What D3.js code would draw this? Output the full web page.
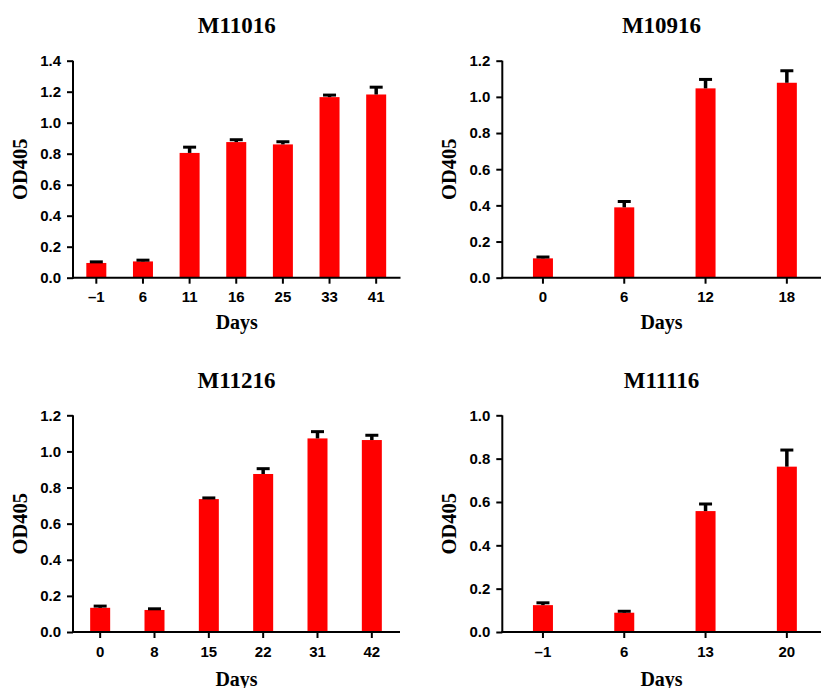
<!DOCTYPE html>
<html>
<head>
<meta charset="utf-8">
<script src="https://cdn.jsdelivr.net/npm/d3@7"></script>
<style>
  html, body { margin: 0; padding: 0; background: #fff; }
  svg { display: block; }
</style>
</head>
<body>
<svg id="chart" width="821" height="688"></svg>
<script>
// ---- data ----
const titles = ["M11016", "M10916", "M11216", "M11116"];

const days1 = ["\u20131", "6", "11", "16", "25", "33", "41"];
const mean1 = [0.095, 0.105, 0.805, 0.875, 0.86, 1.165, 1.182];
const err1  = [0.002, 0.003, 0.032, 0.010, 0.012, 0.008, 0.042];

const days2 = ["0", "6", "12", "18"];
const mean2 = [0.107, 0.389, 1.047, 1.078];
const err2  = [0.003, 0.028, 0.045, 0.062];

const days3 = ["0", "8", "15", "22", "31", "42"];
const mean3 = [0.134, 0.122, 0.736, 0.875, 1.072, 1.063];
const err3  = [0.005, 0.002, 0.002, 0.025, 0.033, 0.022];

const days4 = ["\u20131", "6", "13", "20"];
const mean4 = [0.124, 0.089, 0.558, 0.763];
const err4  = [0.007, 0.003, 0.029, 0.073];

const yMax = [1.4, 1.2, 1.2, 1.0];
const xLabel = "Days";
const yLabel = "OD405";

// ---- layout ----
const panels = [
  { title: titles[0], days: days1, mean: mean1, err: err1, ymax: yMax[0], x0: 73,    x1: 399.5, y0: 277.7, y1: 60.7,  titleY: 33,  xlabY: 329 },
  { title: titles[1], days: days2, mean: mean2, err: err2, ymax: yMax[1], x0: 502.3, x1: 827.5, y0: 277.7, y1: 60.7,  titleY: 33,  xlabY: 329, axisEnd: 821 },
  { title: titles[2], days: days3, mean: mean3, err: err3, ymax: yMax[2], x0: 73,    x1: 399,   y0: 632,   y1: 415.3, titleY: 388, xlabY: 686 },
  { title: titles[3], days: days4, mean: mean4, err: err4, ymax: yMax[3], x0: 502.3, x1: 827.5, y0: 632,   y1: 415.3, titleY: 388, xlabY: 686, axisEnd: 821 }
];

const svg = d3.select("#chart");
const serif = "'Liberation Serif', 'Times New Roman', Times, serif";
const sans = "'Liberation Sans', Arial, Helvetica, sans-serif";
const barW = 20;

panels.forEach(p => {
  const g = svg.append("g");
  const x = d3.scaleBand().domain(p.days).range([p.x0, p.x1]).padding(0);
  const y = d3.scaleLinear().domain([0, p.ymax]).range([p.y0, p.y1]);
  const data = p.days.map((d, i) => ({ day: d, v: p.mean[i], e: p.err[i] }));

  // bars
  g.selectAll("rect.bar").data(data).enter().append("rect")
    .attr("class", "bar")
    .attr("x", d => x(d.day) + x.bandwidth() / 2 - barW / 2)
    .attr("width", barW)
    .attr("y", d => y(d.v))
    .attr("height", d => y(0) - y(d.v))
    .attr("fill", "#ff0000");

  // error bars (upper only)
  const eb = g.selectAll("g.err").data(data).enter().append("g").attr("class", "err");
  eb.append("line")
    .attr("x1", d => x(d.day) + x.bandwidth() / 2)
    .attr("x2", d => x(d.day) + x.bandwidth() / 2)
    .attr("y1", d => y(d.v))
    .attr("y2", d => y(d.v + d.e))
    .attr("stroke", "#000").attr("stroke-width", 3.5);
  eb.append("line")
    .attr("x1", d => x(d.day) + x.bandwidth() / 2 - 6.5)
    .attr("x2", d => x(d.day) + x.bandwidth() / 2 + 6.5)
    .attr("y1", d => y(d.v + d.e) - 0.8)
    .attr("y2", d => y(d.v + d.e) - 0.8)
    .attr("stroke", "#000").attr("stroke-width", 3);

  // y axis
  const ya = g.append("g")
    .attr("transform", `translate(${p.x0},0)`)
    .call(d3.axisLeft(y).tickValues(d3.range(0, p.ymax + 0.001, 0.2)).tickFormat(d3.format(".1f")).tickSize(6).tickSizeOuter(0).tickPadding(6));
  ya.select(".domain").attr("stroke-width", 2).attr("d", `M0,${p.y0 + 1}V${p.y1}`);
  ya.selectAll(".tick line").attr("stroke-width", 2);
  ya.selectAll(".tick text").attr("font-family", sans).attr("font-weight", "bold").attr("font-size", 15).attr("fill", "#000");

  // x axis
  const xa = g.append("g")
    .attr("transform", `translate(0,${p.y0})`)
    .call(d3.axisBottom(x).tickSize(6).tickSizeOuter(0).tickPadding(8));
  xa.select(".domain").attr("stroke-width", 2).attr("d", `M${p.x0 - 1},0H${p.axisEnd ? p.axisEnd : p.x1 + 1}`);
  xa.selectAll(".tick line").attr("stroke-width", 2);
  xa.selectAll(".tick text").attr("font-family", sans).attr("font-weight", "bold").attr("font-size", 15).attr("fill", "#000");

  const cx = (p.x0 + (p.axisEnd ? 820.7 : p.x1 + 1)) / 2;

  // title
  g.append("text")
    .attr("x", cx).attr("y", p.titleY)
    .attr("text-anchor", "middle")
    .attr("font-family", serif).attr("font-weight", "bold").attr("font-size", 23)
    .text(p.title);

  // x label
  g.append("text")
    .attr("x", cx).attr("y", p.xlabY)
    .attr("text-anchor", "middle")
    .attr("font-family", serif).attr("font-weight", "bold").attr("font-size", 20)
    .text(xLabel);

  // y label
  const ly = (p.y0 + p.y1) / 2;
  const lx = p.x0 - 46.5;
  g.append("text")
    .attr("transform", `translate(${lx},${ly}) rotate(-90)`)
    .attr("text-anchor", "middle")
    .attr("font-family", serif).attr("font-weight", "bold").attr("font-size", 20.5)
    .text(yLabel);
});
</script>
</body>
</html>
